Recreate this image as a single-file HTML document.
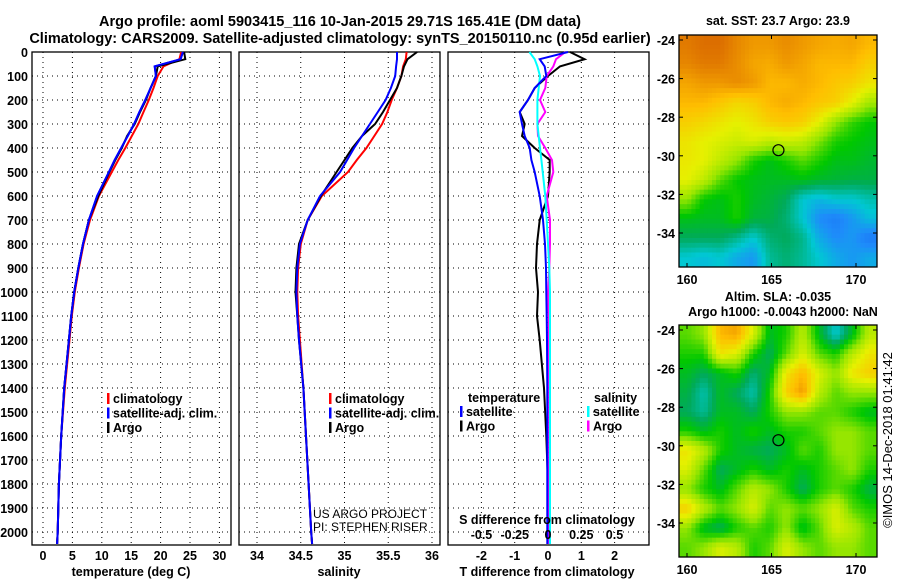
<!DOCTYPE html>
<html><head><meta charset="utf-8"><style>
html,body{margin:0;padding:0;background:#fff}
svg{display:block;font-family:"Liberation Sans",Arial,sans-serif}
.b{font-weight:bold}
</style></head><body>
<svg id="fig" width="900" height="580" viewBox="0 0 900 580">
<g id="titles" class="b" font-size="14.5" text-anchor="middle">
<text x="340" y="26">Argo profile: aoml 5903415_116 10-Jan-2015 29.71S 165.41E (DM data)</text>
<text x="340" y="43">Climatology: CARS2009. Satellite-adjusted climatology: synTS_20150110.nc (0.95d earlier)</text>
</g>
<g id="m1"></g>
<g id="m2"></g>
<g id="p1"></g>
<g id="p2"></g>
<g id="p3"></g>
<text transform="translate(892,440) rotate(-90)" text-anchor="middle" font-size="13">©IMOS 14-Dec-2018 01:41:42</text>
</svg>
<script>
const depths=[0,30,60,100,150,200,250,300,350,400,450,500,600,700,800,900,1000,1100,1200,1400,1600,1800,2000,2050];
const tClim=[23.5,23.2,20.5,19.5,18.8,18,17.1,16.2,15.1,14,12.8,11.7,9.5,8.0,6.9,6.1,5.4,4.9,4.5,3.7,3.1,2.7,2.5,2.4];
const tSat=[23.8,23.4,19.0,19.2,18.3,17.4,16.4,15.5,14.4,13.3,12.2,11.2,9.2,7.8,6.8,6.0,5.3,4.8,4.4,3.6,3.1,2.7,2.5,2.4];
const tArgo=[24.0,24.2,19.5,19.2,18.3,17.5,16.5,15.6,14.3,13.4,12.3,11.3,9.4,7.8,6.8,6.0,5.3,4.8,4.4,3.6,3.1,2.7,2.5,2.4];
const sClim=[35.71,35.70,35.67,35.65,35.6,35.54,35.49,35.43,35.34,35.25,35.14,35.04,34.74,34.58,34.5,34.47,34.46,34.47,34.49,34.53,34.56,34.59,34.62,34.63];
const sSat=[35.6,35.6,35.59,35.58,35.53,35.47,35.38,35.29,35.2,35.11,35.03,34.95,34.72,34.58,34.49,34.46,34.45,34.46,34.48,34.53,34.56,34.59,34.62,34.63];
const sArgo=[35.83,35.72,35.68,35.65,35.6,35.52,35.44,35.35,35.2,35.09,35.0,34.91,34.73,34.58,34.48,34.45,34.44,34.46,34.48,34.53,34.56,34.59,34.62,34.63];
const dTargo=[0.66,1.1,0.36,0,-0.4,-0.6,-0.85,-0.7,-0.78,-0.4,0.05,0.05,0,-0.25,-0.33,-0.36,-0.3,-0.33,-0.25,-0.12,-0.05,0,0,0];
const dTsat=[0.6,-0.25,-0.1,-0.05,-0.4,-0.6,-0.85,-0.78,-0.7,-0.55,-0.5,-0.4,-0.25,-0.15,-0.09,-0.06,-0.05,-0.04,-0.03,-0.02,-0.02,-0.02,-0.02,-0.02];
const dSargo=[0.13,0.06,0.04,-0.01,-0.02,-0.06,-0.02,-0.08,-0.075,-0.02,0.03,0.04,-0.01,0.015,0.015,0.01,0.0,0.005,0.005,0.008,0.008,0.008,0.008,0.008];
const dSsat=[-0.14,-0.1,-0.08,-0.06,-0.07,-0.08,-0.08,-0.08,-0.07,-0.06,-0.05,-0.04,-0.02,-0.01,0,0.01,0.015,0.015,0.015,0.015,0.015,0.015,0.015,0.015];
const depthTicks=[0,100,200,300,400,500,600,700,800,900,1000,1100,1200,1300,1400,1500,1600,1700,1800,1900,2000];
const tTicks=[0,5,10,15,20,25,30];
const sTicks=[34,34.5,35,35.5,36];
const sTickLabels=['34','34.5','35','35.5','36'];
const dTTicks=[-2,-1,0,1,2];
const dSTicks=[-0.5,-0.25,0,0.25,0.5];
const dSLabels=['-0.5','-0.25','0','0.25','0.5'];
const latTicks=[-24,-26,-28,-30,-32,-34];
const lonTicks=[160,165,170];
const sstGrid=[
[0.95,0.97,0.97,0.93,0.9,0.9,0.92,0.9,0.88,0.87,0.88,0.85],
[0.93,0.95,0.95,0.92,0.88,0.87,0.9,0.88,0.85,0.85,0.85,0.8],
[0.88,0.9,0.9,0.92,0.9,0.85,0.85,0.87,0.85,0.82,0.8,0.75],
[0.85,0.85,0.82,0.78,0.8,0.85,0.87,0.85,0.82,0.8,0.72,0.62],
[0.8,0.78,0.75,0.72,0.75,0.8,0.82,0.8,0.72,0.6,0.52,0.48],
[0.75,0.72,0.7,0.68,0.7,0.66,0.68,0.66,0.58,0.5,0.48,0.46],
[0.74,0.72,0.66,0.6,0.5,0.46,0.5,0.55,0.5,0.46,0.46,0.44],
[0.72,0.66,0.55,0.48,0.46,0.45,0.45,0.46,0.44,0.43,0.42,0.42],
[0.6,0.48,0.46,0.5,0.45,0.43,0.4,0.3,0.27,0.3,0.3,0.33],
[0.46,0.45,0.45,0.5,0.43,0.42,0.38,0.3,0.2,0.17,0.22,0.28],
[0.4,0.4,0.4,0.36,0.3,0.38,0.4,0.36,0.25,0.2,0.22,0.16],
[0.3,0.28,0.3,0.25,0.22,0.35,0.38,0.35,0.3,0.25,0.22,0.25]];
const slaGrid=[
[0.55,0.6,0.85,0.88,0.7,0.45,0.5,0.65,0.45,0.3,0.45,0.65],
[0.5,0.5,0.75,0.7,0.5,0.4,0.55,0.7,0.55,0.5,0.65,0.75],
[0.45,0.4,0.45,0.5,0.38,0.45,0.75,0.85,0.7,0.6,0.75,0.8],
[0.42,0.33,0.45,0.4,0.33,0.5,0.8,0.9,0.65,0.55,0.6,0.6],
[0.4,0.35,0.45,0.45,0.4,0.5,0.6,0.6,0.55,0.55,0.5,0.45],
[0.5,0.45,0.5,0.45,0.5,0.45,0.5,0.5,0.55,0.6,0.6,0.55],
[0.75,0.65,0.5,0.45,0.42,0.4,0.45,0.55,0.5,0.6,0.6,0.55],
[0.7,0.55,0.4,0.45,0.5,0.45,0.5,0.45,0.5,0.55,0.6,0.5],
[0.6,0.5,0.45,0.55,0.65,0.6,0.5,0.4,0.5,0.55,0.5,0.42],
[0.8,0.65,0.55,0.6,0.7,0.55,0.6,0.55,0.6,0.7,0.55,0.5],
[0.6,0.45,0.4,0.5,0.55,0.5,0.6,0.45,0.55,0.7,0.65,0.55],
[0.55,0.6,0.7,0.65,0.5,0.55,0.7,0.6,0.55,0.6,0.6,0.55]];

const NS='http://www.w3.org/2000/svg';
function mk(parent,tag,attrs,txt){const e=document.createElementNS(NS,tag);for(const k in attrs)e.setAttribute(k,attrs[k]);if(txt!==undefined)e.textContent=txt;parent.appendChild(e);return e;}
const Y0=52,Y1=545;
const yD=d=>Y0+0.24*d;
function frame(g,x0,x1,xs,fx){
  depthTicks.forEach(d=>{if(d>0){const l=mk(g,'line',{x1:x0,x2:x1,y1:yD(d),y2:yD(d),stroke:'#000','stroke-dasharray':'1,4','stroke-width':1});
  
  }});
  xs.forEach(v=>{const l=mk(g,'line',{x1:fx(v),x2:fx(v),y1:Y0,y2:Y1,stroke:'#000','stroke-dasharray':'1,4','stroke-width':1});
  
  });
  const r=mk(g,'rect',{x:x0,y:Y0,width:x1-x0,height:Y1-Y0,fill:'none',stroke:'#000','stroke-width':1.3});
  
  
}
function line(g,xs,fx,color,name,w){
  const pts=depths.map((d,i)=>fx(xs[i]).toFixed(1)+','+yD(d).toFixed(1)).join(' ');
  const p=mk(g,'polyline',{points:pts,fill:'none',stroke:color,'stroke-width':w||2});
  
  
}
function legend(g,x,y,items){
  items.forEach((it,i)=>{const yy=y+i*14.5;
   const r=mk(g,'rect',{x:x,y:yy-10,width:2.5,height:11,fill:it[0]});
   
   
   const t=mk(g,'text',{x:x+6,y:yy,'font-size':12.5,'font-weight':'bold'},it[1]);
   
   });
}
const p1=document.getElementById('p1');
const fT=v=>43+5.88*v;
frame(p1,32,231,tTicks,fT);
depthTicks.forEach(d=>{const t=mk(p1,'text',{x:28,y:yD(d)+5,'text-anchor':'end','font-size':12.5,'font-weight':'bold'},String(d));

});
tTicks.forEach(v=>{const t=mk(p1,'text',{x:fT(v),y:560,'text-anchor':'middle','font-size':12.5,'font-weight':'bold'},String(v));

});
line(p1,tClim,fT,'#f00','temperature-climatology-line');
line(p1,tSat,fT,'#00f','temperature-satellite-line');
line(p1,tArgo,fT,'#000','temperature-argo-line');
line(p1,tSat,fT,'#00f','temperature-satellite-line-top');
legend(p1,107,403,[['#f00','climatology'],['#00f','satellite-adj. clim.'],['#000','Argo']]);
let tt=mk(p1,'text',{x:131,y:576,'text-anchor':'middle','font-size':12.5,'font-weight':'bold'},'temperature (deg C)');


const p2=document.getElementById('p2');
const fS=v=>257+87.5*(v-34);
frame(p2,239,440,sTicks,fS);
sTicks.forEach((v,i)=>{const t=mk(p2,'text',{x:fS(v),y:560,'text-anchor':'middle','font-size':12.5,'font-weight':'bold'},sTickLabels[i]);

});
line(p2,sClim,fS,'#f00','salinity-climatology-line');
line(p2,sArgo,fS,'#000','salinity-argo-line');
line(p2,sSat,fS,'#00f','salinity-satellite-line');
legend(p2,329,403,[['#f00','climatology'],['#00f','satellite-adj. clim.'],['#000','Argo']]);
tt=mk(p2,'text',{x:339,y:576,'text-anchor':'middle','font-size':12.5,'font-weight':'bold'},'salinity');


tt=mk(p2,'text',{x:313,y:518,'font-size':12},'US ARGO PROJECT');


tt=mk(p2,'text',{x:313,y:531,'font-size':12},'PI: STEPHEN RISER');


const p3=document.getElementById('p3');
const fdT=v=>548+33.3*v, fdS=v=>548+133*v;
frame(p3,448,649,dTTicks,fdT);
dTTicks.forEach(v=>{const t=mk(p3,'text',{x:fdT(v),y:560,'text-anchor':'middle','font-size':12.5,'font-weight':'bold'},String(v));

});
line(p3,dTargo,fdT,'#000','t-diff-argo-line');
line(p3,dSargo,fdS,'#f0f','s-diff-argo-line');
line(p3,dSsat,fdS,'#0ff','s-diff-satellite-line');
line(p3,dTsat,fdT,'#00f','t-diff-satellite-line');
dSTicks.forEach((v,i)=>{const t=mk(p3,'text',{x:fdS(v),y:539,'text-anchor':'middle','font-size':12.5,'font-weight':'bold'},dSLabels[i]);

});
tt=mk(p3,'text',{x:547,y:524,'text-anchor':'middle','font-size':12.5,'font-weight':'bold'},'S difference from climatology');


tt=mk(p3,'text',{x:547,y:576,'text-anchor':'middle','font-size':12.5,'font-weight':'bold'},'T difference from climatology');


tt=mk(p3,'text',{x:468,y:402,'font-size':12.5,'font-weight':'bold'},'temperature');


tt=mk(p3,'text',{x:594,y:402,'font-size':12.5,'font-weight':'bold'},'salinity');


legend(p3,460,416,[['#00f','satellite'],['#000','Argo']]);
legend(p3,587,416,[['#0ff','satellite'],['#f0f','Argo']]);
function cmapSST(v){const stops=[[0,[20,60,230]],[0.2,[30,140,250]],[0.3,[0,200,210]],[0.4,[0,170,90]],[0.48,[0,200,0]],[0.6,[150,230,0]],[0.72,[230,240,0]],[0.84,[255,190,0]],[0.97,[220,110,0]]];
 for(let i=1;i<stops.length;i++){if(v<=stops[i][0]||i==stops.length-1){const a=stops[i-1],b=stops[i];const t=Math.max(0,Math.min(1,(v-a[0])/(b[0]-a[0])));return 'rgb('+a[1].map((c,k)=>Math.round(c+(b[1][k]-c)*t)).join(',')+')';}}}
function sample(grid,fy,fx){const R=grid.length-1,C=grid[0].length-1;
 fy=Math.max(0,Math.min(R,fy));fx=Math.max(0,Math.min(C,fx));
 const r0=Math.floor(fy),c0=Math.floor(fx),r1=Math.min(R,r0+1),c1=Math.min(C,c0+1),ty=fy-r0,tx=fx-c0;
 return (grid[r0][c0]*(1-tx)+grid[r0][c1]*tx)*(1-ty)+(grid[r1][c0]*(1-tx)+grid[r1][c1]*tx)*ty;}
function map(id,top,bottom,grid,title1,title2){
  const g=document.getElementById(id);
  const x0=679,x1=877;const rows=grid.length,cols=grid[0].length;
  const sub=4,NR=rows*sub,NC=cols*sub;
  const cw=(x1-x0)/NC,ch=(bottom-top)/NR;
  for(let r=0;r<NR;r++)for(let c=0;c<NC;c++){
   const v=sample(grid,(r+0.5)/sub-0.5,(c+0.5)/sub-0.5);
   const e=mk(g,'rect',{x:(x0+c*cw).toFixed(2),y:(top+r*ch).toFixed(2),width:(cw+0.5).toFixed(2),height:(ch+0.5).toFixed(2),fill:cmapSST(v)});
   
   }
  const fr=mk(g,'rect',{x:x0,y:top,width:x1-x0,height:bottom-top,fill:'none',stroke:'#000','stroke-width':1.3});
  
  
  const lat0=top+5,ppd=19.3;
  latTicks.forEach(l=>{const y=lat0+(-24-l)*ppd;
   mk(g,'line',{x1:x0,x2:x0+4,y1:y,y2:y,stroke:'#000'});mk(g,'line',{x1:x1-4,x2:x1,y1:y,y2:y,stroke:'#000'});
   const t=mk(g,'text',{x:x0-4,y:y+5,'text-anchor':'end','font-size':12.5,'font-weight':'bold'},String(l));
   
   });
  lonTicks.forEach(l=>{const x=687+(l-160)*16.9;
   mk(g,'line',{x1:x,x2:x,y1:bottom-4,y2:bottom,stroke:'#000'});mk(g,'line',{x1:x,x2:x,y1:top,y2:top+4,stroke:'#000'});
   const t=mk(g,'text',{x:x,y:bottom+17,'text-anchor':'middle','font-size':12.5,'font-weight':'bold'},String(l));
   
   });
  const cx=687+(165.41-160)*16.9, cy=lat0+(29.71-24)*ppd;
  const c=mk(g,'circle',{cx:cx,cy:cy,r:5.5,fill:'none',stroke:'#000','stroke-width':1.2});
  
  
  if(title2){
   let t=mk(g,'text',{x:778,y:top-24,'text-anchor':'middle','font-size':12.5,'font-weight':'bold'},title1);
   
   
   t=mk(g,'text',{x:783,y:top-9,'text-anchor':'middle','font-size':12.5,'font-weight':'bold'},title2);
   
   
  } else {
   const t=mk(g,'text',{x:778,y:top-10,'text-anchor':'middle','font-size':12.5,'font-weight':'bold'},title1);
   
   
  }
}
map('m1',35,267,sstGrid,'sat. SST: 23.7 Argo: 23.9');
map('m2',325,557,slaGrid,'Altim. SLA: -0.035','Argo h1000: -0.0043 h2000: NaN');
</script>
</body></html>
